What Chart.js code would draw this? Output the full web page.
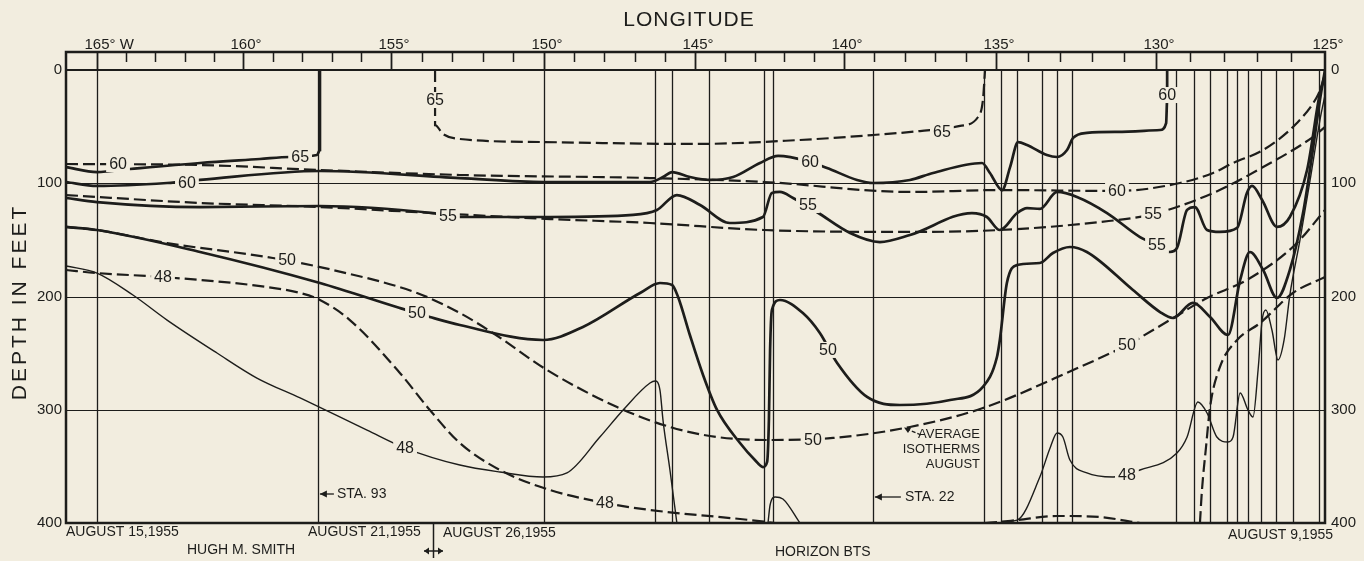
<!DOCTYPE html>
<html>
<head>
<meta charset="utf-8">
<title>Isotherm section, August 1955</title>
<script src="https://cdn.jsdelivr.net/npm/chart.js@4.4.1/dist/chart.umd.min.js"></script>
<style>
  body { margin: 0; background: #f2eddf; }
  canvas { display: block; }
</style>
</head>
<body>
<canvas id="section" width="1364" height="561"></canvas>
<script>
const stationLon = [165.00, 157.47, 150.00, 146.32, 145.76, 144.53, 142.68, 142.38, 139.05, 135.39, 134.84,
  134.34, 133.56, 133.09, 132.63, 129.41, 128.88, 128.40, 127.90, 127.60, 127.28, 126.89, 126.45, 125.95, 125.18];
const depthTicks = [0, 100, 200, 300, 400];
const lonTicks = [165, 160, 155, 150, 145, 140, 135, 130, 125];

// observed isotherms (solid)
const s65Lon = [166.05, 165.00, 163.87, 161.47, 159.43, 158.41, 157.50, 157.40, 157.40, 157.40];
const s65Depth = [85.7, 90.1, 87.4, 82.1, 78.6, 76.8, 75.1, 70.6, 44.2, 0];

const s60Lon = [166.05, 165.00, 162.60, 161.47, 157.40, 152.75, 150.00, 146.49, 146.06, 145.76, 145.17, 144.50, 143.72,
  142.82, 142.21, 141.14, 140.57, 139.57, 139.05, 137.83, 137.07, 135.46, 135.20, 134.81, 134.56, 134.31, 134.03,
  133.41, 133.09, 132.78, 132.59, 132.16, 131.22, 129.88, 129.70, 129.67, 129.67];
const s60Depth = [98.9, 102.4, 99.8, 97.1, 89.2, 95.4, 98.9, 98.9, 94.5, 90.1, 94.5, 97.1, 94.5,
  82.1, 75.9, 81.2, 86.5, 97.1, 99.8, 97.1, 90.9, 82.1, 90.9, 106.0, 85.7, 63.6, 66.2,
  75.1, 76.8, 70.6, 60.0, 55.6, 54.7, 53.0, 46.8, 26.5, 0];

const s55Lon = [166.05, 165.00, 161.47, 157.40, 153.63, 152.75, 149.80, 147.05, 146.26, 145.60, 144.83, 143.83, 142.72,
  142.42, 142.15, 141.71, 140.91, 139.80, 138.82, 137.83, 135.79, 135.30, 134.88, 134.34, 134.03, 133.63, 133.09,
  132.47, 131.53, 130.50, 129.97, 129.59, 129.38, 129.08, 128.85, 128.49, 128.11, 127.60, 127.31, 127.16, 126.86,
  126.42, 126.04, 125.53, 125.15, 125.00];
const s55Depth = [113.0, 116.6, 121.0, 120.1, 126.3, 129.8, 129.8, 128.0, 123.6, 110.4, 119.2, 135.1, 129.8,
  108.6, 107.7, 113.0, 125.4, 143.9, 151.9, 145.7, 126.3, 129.8, 141.3, 126.3, 121.9, 122.7, 107.7,
  112.1, 126.3, 147.5, 154.5, 160.7, 157.2, 123.6, 121.0, 141.3, 143.0, 139.5, 108.6, 102.4, 114.8,
  138.6, 129.8, 88.3, 20.3, 4.4];

const s50Lon = [166.05, 165.00, 161.47, 157.40, 154.71, 153.73, 152.75, 150.03, 148.71, 146.82, 146.16, 145.76, 145.56,
  145.17, 144.73, 144.26, 143.49, 142.99, 142.72, 142.58, 142.52, 142.48, 142.42, 142.15, 141.38, 140.81, 140.23,
  139.24, 138.16, 136.51, 135.43, 134.97, 134.88, 134.66, 134.34, 133.63, 133.22, 132.69, 132.16, 130.72, 129.88,
  129.50, 128.91, 128.40, 127.87, 127.51, 127.22, 126.83, 126.42, 126.04, 125.65, 125.36, 125.15, 125.00];
const s50Depth = [138.6, 141.3, 160.7, 188.1, 210.2, 218.1, 225.2, 238.4, 226.9, 196.9, 188.1, 189.8, 200.4,
  234.0, 269.3, 300.2, 329.4, 344.4, 350.6, 346.1, 309.1, 247.2, 211.9, 203.1, 214.6, 232.2, 258.7,
  288.7, 295.8, 291.4, 279.9, 253.4, 238.4, 188.1, 172.2, 170.4, 161.6, 156.3, 160.7, 194.3, 213.7,
  219.0, 205.7, 218.1, 234.0, 185.4, 160.7, 176.6, 201.3, 176.6, 126.3, 70.6, 26.5, 0];

const s48WestLon = [166.05, 165.00, 163.77, 162.60, 160.89, 159.53, 158.07, 155.81, 154.54, 152.75, 151.44,
  150.03, 149.24, 148.15, 147.38, 146.49, 146.32, 146.16, 146.06, 145.83, 145.60];
const s48WestDepth = [173.1, 179.3, 198.7, 220.8, 249.9, 272.0, 289.6, 317.9, 333.8, 348.8, 355.0,
  359.4, 355.8, 324.1, 300.2, 276.4, 274.6, 282.6, 309.1, 353.2, 400];

const s48MidLon = [142.55, 142.48, 142.31, 142.05, 141.48];
const s48MidDepth = [400, 384.1, 377.0, 378.8, 400];

const s48EastLon = [135.20, 134.34, 133.63, 133.31, 133.09, 132.91, 132.69, 132.16, 131.34, 130.50, 129.38, 129.08,
  128.76, 128.49, 128.20, 127.87, 127.72, 127.51, 127.28, 127.13, 126.98, 126.86, 126.75, 126.57, 126.39, 126.21,
  126.04, 125.74, 125.44, 125.15, 125.00];
const s48EastDepth = [400, 397.4, 359.4, 333.8, 320.5, 324.1, 344.4, 355.8, 359.4, 353.2, 338.2, 324.1,
  293.2, 302.9, 324.1, 328.5, 324.1, 285.2, 300.2, 306.4, 264.9, 220.8, 211.9, 229.6, 256.1, 238.4,
  198.7, 150.1, 97.1, 44.2, 22.1];

// average August isotherms (dashed)
const a65Lon = [153.56, 153.56, 153.56, 153.30, 152.75, 150.03, 145.00, 141.48, 139.05, 137.50, 136.18, 135.59, 135.43, 135.36];
const a65Depth = [0, 26.5, 48.6, 56.5, 60.9, 63.6, 65.3, 61.8, 57.4, 53.9, 49.4, 41.5, 26.5, 0];

const a60Lon = [166.05, 161.47, 157.40, 152.75, 146.49, 142.68, 137.83, 134.88, 131.22, 129.29, 128.31, 127.72,
  126.83, 125.83, 125.24, 125.00];
const a60Depth = [83.0, 83.9, 88.3, 92.7, 95.4, 98.9, 107.7, 106.0, 106.8, 99.8, 90.9, 82.1, 70.6, 46.8, 23.8, 7.1];

const a55Lon = [166.05, 161.47, 157.40, 153.63, 149.80, 146.49, 142.68, 137.83, 134.88, 131.75, 130.09, 128.31,
  126.83, 125.36, 125.00];
const a55Depth = [110.4, 117.4, 121.0, 126.3, 131.6, 135.1, 141.3, 143.0, 141.3, 134.2, 127.2, 108.6, 85.7, 59.2, 50.3];

const a50Lon = [166.05, 165.00, 162.60, 158.99, 156.96, 154.15, 152.75, 151.67, 149.90, 147.58, 145.83, 144.26,
  142.48, 140.37, 137.83, 135.43, 132.59, 130.91, 129.59, 128.49, 127.31, 125.89, 125.00];
const a50Depth = [138.6, 141.3, 152.8, 166.0, 176.6, 196.9, 214.6, 232.2, 264.9, 297.6, 315.2, 324.1,
  326.7, 324.9, 315.2, 298.5, 264.9, 242.8, 220.8, 201.3, 185.4, 154.5, 123.6];

const a48WestLon = [166.05, 165.00, 162.74, 159.19, 158.07, 157.40, 156.39, 154.71, 153.73, 152.75, 151.44, 149.80,
  147.98, 146.49, 143.15, 142.32];
const a48WestDepth = [176.6, 179.3, 182.8, 191.6, 196.9, 203.1, 220.8, 267.5, 300.2, 329.4, 353.2, 370.9,
  382.3, 388.5, 397.4, 400];
const a48MidLon = [135.36, 134.88, 134.34, 133.09, 131.75, 130.72, 130.50];
const a48MidDepth = [400, 399.0, 397.4, 393.8, 394.7, 399.1, 400];
const a48EastLon = [128.70, 128.64, 128.52, 128.40, 128.11, 127.60, 126.92, 125.95, 125.00];
const a48EastDepth = [400, 370.9, 332.9, 297.6, 262.3, 238.4, 223.4, 196.9, 182.8];

// isotherm labels
const labelText = ['65', '65', '65', '60', '60', '60', '60', '60', '55', '55', '55', '55',
  '50', '50', '50', '50', '50', '48', '48', '48', '48'];
const labelLon = [153.56, 136.78, 158.07, 164.28, 161.92, 141.14, 131.22, 129.67, 153.14, 141.21, 129.97, 130.09,
  158.51, 154.15, 140.54, 141.04, 130.91, 162.74, 154.54, 147.98, 130.91];
const labelDepth = [26.5, 54.7, 76.8, 83.0, 99.8, 81.2, 106.8, 22.1, 128.9, 119.2, 154.5, 127.2,
  167.8, 214.6, 247.2, 326.7, 242.8, 182.8, 333.8, 382.3, 357.6];

const INK = '#1d1d1b';
const PAPER = '#f2eddf';
const FONT = '"Liberation Sans", Arial, sans-serif';

// the top longitude axis of the section is not evenly spaced: map it through the tick marks
const KNOT_LON = [166.05, 165, 160, 155, 150, 145, 140, 135, 130, 125];
const KNOT_DEC = [0, 31, 177, 325, 478, 629, 778, 930, 1090, 1259].map(v => v / 1259);

function lonToDec(v) {
  let i = 0;
  while (i < KNOT_LON.length - 2 && v < KNOT_LON[i + 1]) i++;
  const t = (KNOT_LON[i] - v) / (KNOT_LON[i] - KNOT_LON[i + 1]);
  return KNOT_DEC[i] + t * (KNOT_DEC[i + 1] - KNOT_DEC[i]);
}
function decToLon(d) {
  let i = 0;
  while (i < KNOT_DEC.length - 2 && d > KNOT_DEC[i + 1]) i++;
  const t = (d - KNOT_DEC[i]) / (KNOT_DEC[i + 1] - KNOT_DEC[i]);
  return KNOT_LON[i] - t * (KNOT_LON[i] - KNOT_LON[i + 1]);
}

class SectionScale extends Chart.LinearScale {
  getPixelForValue(value) {
    return this.getPixelForDecimal(lonToDec(value));
  }
  getValueForPixel(pixel) {
    return decToLon(this.getDecimalForPixel(pixel));
  }
}
SectionScale.id = 'section';
SectionScale.defaults = Chart.LinearScale.defaults;
Chart.register(SectionScale);

const thick = { borderWidth: 2.7 };
const thin = { borderWidth: 1.4 };
const dashed = { borderWidth: 2.2, borderDash: [12, 5] };

function curve(lon, depth, style) {
  return Object.assign({
    data: lon.map((x, i) => ({ x: x, y: depth[i] })),
    borderColor: INK,
    pointRadius: 0,
    fill: false,
    tension: 0.4,
    cubicInterpolationMode: 'monotone'
  }, style);
}

function text(ctx, str, x, y, size, align) {
  ctx.font = size + 'px ' + FONT;
  ctx.textAlign = align || 'left';
  ctx.textBaseline = 'middle';
  ctx.fillText(str, x, y);
}

function arrowLeft(ctx, x0, x1, y) {
  ctx.beginPath();
  ctx.moveTo(x1, y);
  ctx.lineTo(x0, y);
  ctx.stroke();
  ctx.beginPath();
  ctx.moveTo(x0, y);
  ctx.lineTo(x0 + 7, y - 3.5);
  ctx.lineTo(x0 + 7, y + 3.5);
  ctx.closePath();
  ctx.fill();
}

const sectionFrame = {
  id: 'sectionFrame',
  beforeDraw(chart) {
    const ctx = chart.ctx;
    ctx.save();
    ctx.fillStyle = PAPER;
    ctx.fillRect(0, 0, chart.width, chart.height);
    ctx.restore();
  },
  beforeDatasetsDraw(chart) {
    const ctx = chart.ctx, a = chart.chartArea;
    const xs = chart.scales.x, ys = chart.scales.y;
    ctx.save();
    ctx.strokeStyle = INK;
    ctx.lineWidth = 1.2;
    [100, 200, 300].forEach(d => {
      const y = Math.round(ys.getPixelForValue(d)) + 0.5;
      ctx.beginPath(); ctx.moveTo(a.left, y); ctx.lineTo(a.right, y); ctx.stroke();
    });
    ctx.lineWidth = 1.3;
    stationLon.forEach(l => {
      const x = Math.round(xs.getPixelForValue(l)) + 0.5;
      ctx.beginPath(); ctx.moveTo(x, a.top); ctx.lineTo(x, a.bottom); ctx.stroke();
    });
    ctx.restore();
  },
  afterDatasetsDraw(chart) {
    const ctx = chart.ctx, a = chart.chartArea;
    const xs = chart.scales.x, ys = chart.scales.y;
    ctx.save();
    ctx.fillStyle = INK;
    ctx.strokeStyle = INK;

    // isotherm labels, set into gaps in the lines
    ctx.font = '16px ' + FONT;
    labelText.forEach((t, i) => {
      const x = xs.getPixelForValue(labelLon[i]);
      const y = ys.getPixelForValue(labelDepth[i]);
      const w = ctx.measureText(t).width + 6;
      ctx.fillStyle = PAPER;
      ctx.fillRect(x - w / 2, y - 8, w, 16);
      ctx.fillStyle = INK;
      text(ctx, t, x, y + 1, 16, 'center');
    });

    // frame and longitude band
    const bandTop = a.top - 18;
    ctx.lineWidth = 2.5;
    ctx.beginPath();
    ctx.moveTo(a.left, bandTop); ctx.lineTo(a.right, bandTop);
    ctx.lineTo(a.right, a.bottom); ctx.lineTo(a.left, a.bottom); ctx.closePath();
    ctx.stroke();
    ctx.lineWidth = 2;
    ctx.beginPath(); ctx.moveTo(a.left, a.top); ctx.lineTo(a.right, a.top); ctx.stroke();
    for (let l = 165; l >= 126; l--) {
      const x = Math.round(xs.getPixelForValue(l)) + 0.5;
      const major = l % 5 === 0;
      ctx.lineWidth = major ? 1.8 : 1.5;
      ctx.beginPath(); ctx.moveTo(x, bandTop); ctx.lineTo(x, major ? a.top : bandTop + 10); ctx.stroke();
    }

    // longitude labels: number centred on its tick
    ctx.font = '15px ' + FONT;
    lonTicks.forEach(l => {
      const x = xs.getPixelForValue(l);
      const w = ctx.measureText(String(l)).width;
      text(ctx, l + '°' + (l === 165 ? ' W' : ''), x - w / 2, bandTop - 7, 15, 'left');
    });

    // depth labels on both sides
    depthTicks.forEach(d => {
      const y = ys.getPixelForValue(d);
      text(ctx, String(d), a.left - 4, y, 15, 'right');
      text(ctx, String(d), a.right + 6, y, 15, 'left');
    });

    // axis titles
    ctx.save();
    ctx.letterSpacing = '1px';
    text(ctx, 'LONGITUDE', 689, 20, 21, 'center');
    ctx.translate(20, 302);
    ctx.rotate(-Math.PI / 2);
    ctx.letterSpacing = '3px';
    text(ctx, 'DEPTH IN FEET', 0, 0, 21, 'center');
    ctx.restore();

    // cruise notes under the section
    text(ctx, 'AUGUST 15,1955', a.left, 532, 14, 'left');
    text(ctx, 'HUGH M. SMITH', 187, 550, 14, 'left');
    text(ctx, 'AUGUST 21,1955', 308, 532, 14, 'left');
    text(ctx, 'AUGUST 26,1955', 443, 533, 14, 'left');
    text(ctx, 'HORIZON BTS', 775, 552, 14, 'left');
    text(ctx, 'AUGUST 9,1955', 1333, 535, 14, 'right');

    ctx.lineWidth = 1.5;
    ctx.beginPath(); ctx.moveTo(433.5, a.bottom); ctx.lineTo(433.5, 558); ctx.stroke();
    ctx.beginPath(); ctx.moveTo(424, 551); ctx.lineTo(443, 551); ctx.stroke();
    ctx.beginPath();
    ctx.moveTo(424, 551); ctx.lineTo(429, 547.5); ctx.lineTo(429, 554.5); ctx.closePath();
    ctx.moveTo(443, 551); ctx.lineTo(438, 547.5); ctx.lineTo(438, 554.5); ctx.closePath();
    ctx.fill();

    // station notes
    ctx.lineWidth = 1.3;
    const sta93 = xs.getPixelForValue(stationLon[1]);
    arrowLeft(ctx, sta93 + 2, sta93 + 16, 494);
    text(ctx, 'STA. 93', sta93 + 19, 494, 14, 'left');
    const sta22 = xs.getPixelForValue(stationLon[8]);
    arrowLeft(ctx, sta22 + 2, sta22 + 28, 497);
    text(ctx, 'STA. 22', sta22 + 32, 497, 14, 'left');

    text(ctx, 'AVERAGE', 980, 434, 13, 'right');
    text(ctx, 'ISOTHERMS', 980, 449, 13, 'right');
    text(ctx, 'AUGUST', 980, 464, 13, 'right');
    ctx.setLineDash([4, 2]);
    ctx.beginPath(); ctx.moveTo(921, 435); ctx.lineTo(907, 429); ctx.stroke();
    ctx.setLineDash([]);
    ctx.beginPath(); ctx.moveTo(904, 427.5); ctx.lineTo(911, 428); ctx.lineTo(908, 433); ctx.closePath(); ctx.fill();

    ctx.restore();
  }
};

new Chart(document.getElementById('section'), {
  type: 'line',
  data: {
    datasets: [
      curve(s65Lon, s65Depth, thick),
      curve(s60Lon, s60Depth, thick),
      curve(s55Lon, s55Depth, thick),
      curve(s50Lon, s50Depth, thick),
      curve(s48WestLon, s48WestDepth, thin),
      curve(s48MidLon, s48MidDepth, thin),
      curve(s48EastLon, s48EastDepth, thin),
      curve(a65Lon, a65Depth, dashed),
      curve(a60Lon, a60Depth, dashed),
      curve(a55Lon, a55Depth, dashed),
      curve(a50Lon, a50Depth, dashed),
      curve(a48WestLon, a48WestDepth, dashed),
      curve(a48MidLon, a48MidDepth, dashed),
      curve(a48EastLon, a48EastDepth, dashed)
    ]
  },
  options: {
    responsive: false,
    animation: false,
    layout: { padding: { left: 66, right: 39, top: 70, bottom: 38 } },
    scales: {
      x: { type: 'section', min: 125, max: 166.05, display: false },
      y: { type: 'linear', min: 0, max: 400, reverse: true, display: false }
    },
    plugins: {
      legend: { display: false },
      tooltip: { enabled: false }
    }
  },
  plugins: [sectionFrame]
});
</script>
</body>
</html>
